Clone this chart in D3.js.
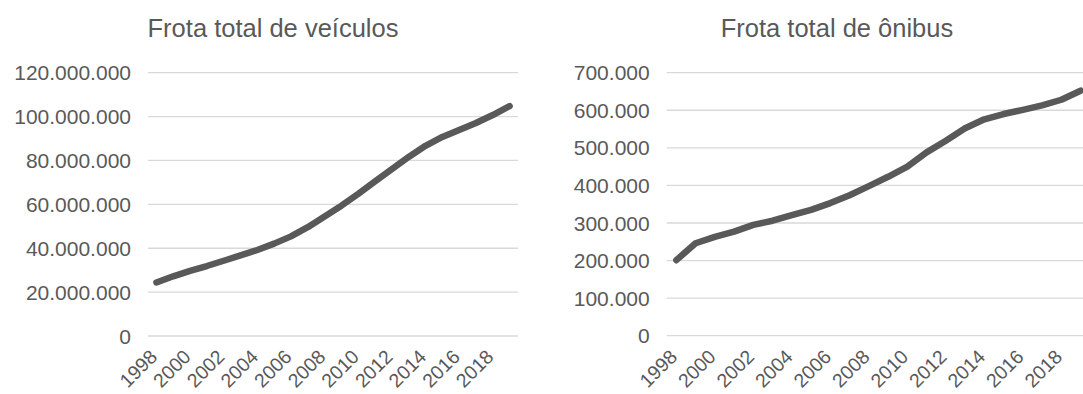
<!DOCTYPE html>
<html>
<head>
<meta charset="utf-8">
<script src="https://cdn.jsdelivr.net/npm/d3@7"></script>
<style>
  html, body { margin: 0; padding: 0; background: #fff; overflow: hidden; }
  svg { display: block; }
  text { font-family: "Liberation Sans", Arial, sans-serif; fill: #595959; }
</style>
</head>
<body>
<script>
// Years on the category axis (one point per year)
const years = d3.range(1998, 2020);
// Labelled years (every second year)
const yearTicks = d3.range(1998, 2019, 2);

// Total vehicle fleet (units)
const frotaVeiculos = [
  24400000, 27200000, 29700000, 31900000, 34300000, 36700000,
  39200000, 42100000, 45400000, 49600000, 54500000, 59400000,
  64800000, 70500000, 76100000, 81600000, 86700000, 90700000,
  93900000, 97100000, 100700000, 104800000
];

// Total bus fleet (units)
const frotaOnibus = [
  201000, 246000, 263000, 277000, 295000, 306000,
  321000, 335000, 353000, 374000, 398000, 423000,
  450000, 488000, 519000, 552000, 576000, 590000,
  601000, 613000, 628000, 652000
];

const veiculosTicks = [0, 20000000, 40000000, 60000000, 80000000, 100000000, 120000000];
const onibusTicks = [0, 100000, 200000, 300000, 400000, 500000, 600000, 700000];

const W = 1083, H = 394;
const fmt = d3.formatLocale({ decimal: ",", thousands: ".", grouping: [3], currency: ["R$", ""] }).format(",d");

const svg = d3.select("body").append("svg").attr("width", W).attr("height", H);

function drawChart(cfg) {
  const g = svg.append("g");

  const x = d3.scaleBand().domain(years).range([cfg.left, cfg.right]);
  const y = d3.scaleLinear().domain([0, cfg.max]).range([cfg.bottom, cfg.top]);

  // Title
  g.append("text")
    .attr("x", cfg.titleX).attr("y", 37)
    .attr("text-anchor", "middle")
    .style("font-size", "25.5px")
    .text(cfg.title);

  // Horizontal gridlines
  g.append("g").selectAll("line").data(cfg.ticks).join("line")
    .attr("x1", cfg.left).attr("x2", Math.min(cfg.right, W))
    .attr("y1", d => y(d)).attr("y2", d => y(d))
    .attr("stroke", "#d9d9d9").attr("stroke-width", 1.3);

  // Value axis labels
  g.append("g").selectAll("text").data(cfg.ticks).join("text")
    .attr("x", cfg.left - 17).attr("y", d => y(d))
    .attr("dy", "0.36em")
    .attr("text-anchor", "end")
    .style("font-size", "21px")
    .text(d => fmt(d));

  // Category axis labels, rotated
  g.append("g").selectAll("text").data(yearTicks).join("text")
    .attr("transform", d => `translate(${x(d) + x.bandwidth() / 2 + 2},358) rotate(-45)`)
    .attr("text-anchor", "end")
    .style("font-size", "19.5px")
    .text(d => d);

  // Series line
  const line = d3.line()
    .x((d, i) => x(years[i]) + x.bandwidth() / 2)
    .y(d => y(d));

  g.append("path")
    .datum(cfg.values)
    .attr("d", line)
    .attr("fill", "none")
    .attr("stroke", "#595959")
    .attr("stroke-width", 6.5)
    .attr("stroke-linejoin", "round")
    .attr("stroke-linecap", "round");
}

drawChart({
  title: "Frota total de veículos",
  titleX: 273,
  values: frotaVeiculos,
  ticks: veiculosTicks,
  max: 120000000,
  left: 148, right: 518, top: 72.7, bottom: 336
});

drawChart({
  title: "Frota total de ônibus",
  titleX: 837,
  values: frotaOnibus,
  ticks: onibusTicks,
  max: 700000,
  left: 666.7, right: 666.7 + 22 * 19.25, top: 72.7, bottom: 335.7
});
</script>
</body>
</html>
